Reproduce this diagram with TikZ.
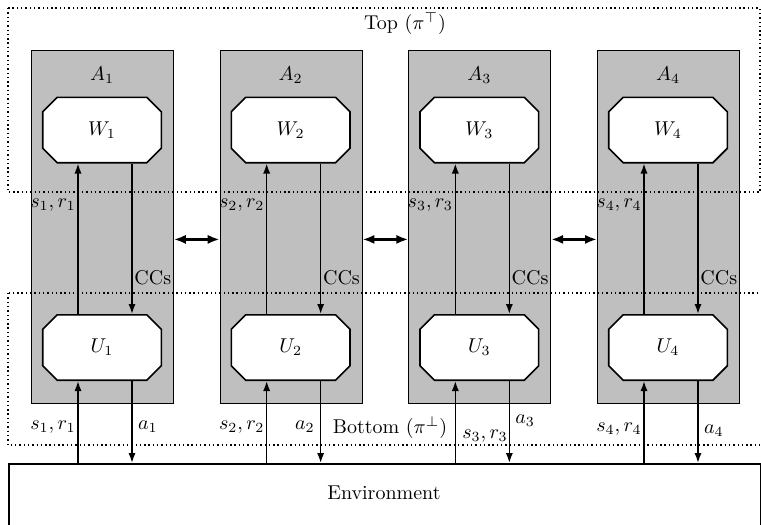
\documentclass[tikz,border=0pt]{standalone}
\usetikzlibrary{shapes.misc,arrows.meta,calc}
\begin{document}
\begin{tikzpicture}[x=0.5pt,y=-0.5pt,
  col/.style={draw=black, fill=lightgray, line width=0.4pt, minimum width=71pt, minimum height=176.5pt, inner sep=0pt},
  agent/.style={chamfered rectangle, chamfered rectangle xsep=3.6pt, chamfered rectangle ysep=3.6pt, draw, thick, fill=white, minimum width=59.3pt, minimum height=32.7pt, inner sep=0pt},
  flow/.style={thick, -{Latex[length=5pt,width=3.6pt]}},
  comm/.style={line width=1.3pt, {Latex[length=6pt,width=4.6pt]}-{Latex[length=6pt,width=4.6pt]}},
  lbl/.style={inner sep=1pt},
  albl/.style={inner sep=2.8pt},
  region/.style={dash pattern=on 0.7pt off 1.45pt, line width=0.6pt}]
\clip (0,0) rectangle (761,525);
\foreach \i in {1,2,3,4}{
  \pgfmathsetmacro{\cl}{31+188.67*(\i-1)}
  \pgfmathsetmacro{\cx}{\cl+71}
  \node[col, anchor=north west] (A\i) at (\cl,50) {};
  \node (A\i lab) at (\cx,75) {$A_\i$};
  \node[agent] (W\i) at (\cx,130) {$W_\i$};
  \node[agent] (U\i) at (\cx,347.5) {$U_\i$};
  \draw[flow] ($(U\i.north)+(-24,0)$) -- ($(W\i.south)+(-24,0)$);
  \draw[flow] ($(W\i.south)+(30,0)$) -- ($(U\i.north)+(30,0)$);
  \node[lbl, anchor=east] (sr\i) at (\cx-24,205) {$s_\i, r_\i$};
  \node[lbl, anchor=west] (cc\i) at (\cx+30,278) {CCs};
}
\foreach \i/\j in {1/2,2/3,3/4}{
  \draw[comm] ($(A\i.east)+(0,12.5)$) -- ($(A\j.west)+(0,12.5)$);
}
\draw[region] (8,8) rectangle (760,192);
\draw[region] (8,293) rectangle (775,445);
\node[draw, thick, fill=white, minimum width=376pt, minimum height=40pt, inner sep=0pt, anchor=north west] (env) at (8,463) {};
\node (envtext) at (384,493) {Environment};
\foreach \i in {1,2,3,4}{
  \coordinate (bu\i) at ($(U\i.south)+(-24,0)$);
  \coordinate (bd\i) at ($(U\i.south)+(30,0)$);
  \draw[flow] (bu\i |- env.north) -- (bu\i);
  \draw[flow] (bd\i) -- (bd\i |- env.north);
}
\node[lbl, anchor=east] (bsr1) at (78,427) {$s_1, r_1$};
\node[albl, anchor=west] (ba1) at (132,427) {$a_1$};
\node[lbl, anchor=east] (bsr2) at (266.7,427) {$s_2, r_2$};
\node[albl, anchor=east] (ba2) at (320.7,427) {$a_2$};
\node[anchor=west] (bsr3) at (455.3,436) {$s_3, r_3$};
\node[albl, anchor=west] (ba3) at (509.3,421) {$a_3$};
\node[lbl, anchor=east] (bsr4) at (644,429) {$s_4, r_4$};
\node[albl, anchor=west] (ba4) at (698,431) {$a_4$};
\node (bottomlab) at (390,428) {Bottom ($\pi^\perp$)};
\node (toplab) at (405,24) {Top ($\pi^\top$)};
\end{tikzpicture}
\end{document}
